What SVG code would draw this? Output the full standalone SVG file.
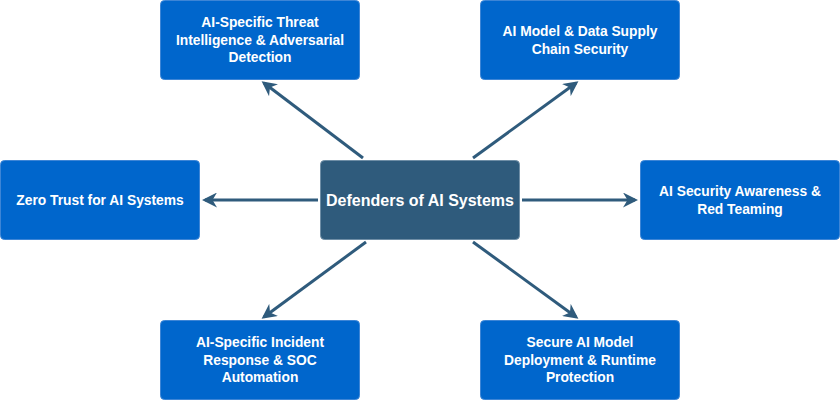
<svg xmlns="http://www.w3.org/2000/svg" width="840" height="400" viewBox="0 0 840 400">
<defs>
<style>
.box{fill:#0066CC;stroke:#3d85d6;stroke-width:1}
.hub{fill:#2F5B7C;stroke:#6f8ea6;stroke-width:1}
.t{font-family:"Liberation Sans",Arial,sans-serif;font-weight:bold;font-size:13.8px;fill:#fff;text-anchor:middle;dominant-baseline:central}
.ht{font-family:"Liberation Sans",Arial,sans-serif;font-weight:bold;font-size:16px;fill:#fff;text-anchor:middle;dominant-baseline:central}
.c{stroke:#2F5B7C;stroke-width:3;fill:none;marker-end:url(#ah)}
</style>
<marker id="ah" viewBox="0 0 10 10" refX="8" refY="5" markerWidth="5" markerHeight="5" orient="auto" markerUnits="strokeWidth">
<path d="M0,0 L10,5 L0,10 L3,5 Z" fill="#2F5B7C"/>
</marker>
</defs>
<g id="connectors">
<line class="c" x1="363" y1="158" x2="264" y2="83"/>
<line class="c" x1="473" y1="158" x2="576" y2="83"/>
<line class="c" x1="318" y1="200" x2="205" y2="200"/>
<line class="c" x1="522" y1="200" x2="635" y2="200"/>
<line class="c" x1="366" y1="242" x2="264" y2="317"/>
<line class="c" x1="473" y1="242" x2="576" y2="317"/>
</g>
<g id="hub">
<rect class="hub" x="320.5" y="160.5" width="199" height="79" rx="4"/>
<text class="ht" x="420" y="200">Defenders of AI Systems</text>
</g>
<g id="threat-intel">
<rect class="box" x="160.5" y="0.5" width="199" height="79" rx="4"/>
<text class="t" x="260" y="22">AI-Specific Threat</text>
<text class="t" x="260" y="40">Intelligence &amp; Adversarial</text>
<text class="t" x="260" y="57">Detection</text>
</g>
<g id="supply-chain">
<rect class="box" x="480.5" y="0.5" width="199" height="79" rx="4"/>
<text class="t" x="580" y="31">AI Model &amp; Data Supply</text>
<text class="t" x="580" y="49">Chain Security</text>
</g>
<g id="zero-trust">
<rect class="box" x="0.5" y="160.5" width="199" height="79" rx="4"/>
<text class="t" x="100" y="200">Zero Trust for AI Systems</text>
</g>
<g id="awareness">
<rect class="box" x="640.5" y="160.5" width="199" height="79" rx="4"/>
<text class="t" x="740" y="191">AI Security Awareness &amp;</text>
<text class="t" x="740" y="209">Red Teaming</text>
</g>
<g id="incident-response">
<rect class="box" x="160.5" y="320.5" width="199" height="79" rx="4"/>
<text class="t" x="260" y="342">AI-Specific Incident</text>
<text class="t" x="260" y="360">Response &amp; SOC</text>
<text class="t" x="260" y="377">Automation</text>
</g>
<g id="deployment">
<rect class="box" x="480.5" y="320.5" width="199" height="79" rx="4"/>
<text class="t" x="580" y="342">Secure AI Model</text>
<text class="t" x="580" y="360">Deployment &amp; Runtime</text>
<text class="t" x="580" y="377">Protection</text>
</g>
</svg>
